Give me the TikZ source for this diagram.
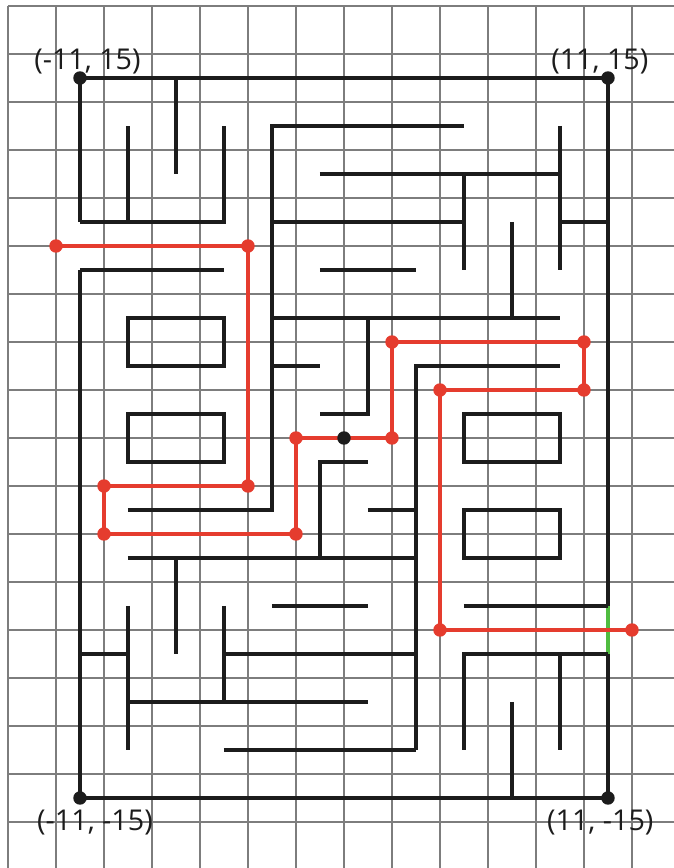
\documentclass[tikz,border=0pt]{standalone}
\usepackage{fontspec}
\setmainfont{Open Sans}
\usetikzlibrary{positioning}

\definecolor{routered}{RGB}{229,60,46}
\definecolor{exitgreen}{RGB}{80,188,64}
\definecolor{gridgray}{RGB}{125,125,125}
\definecolor{wallblack}{RGB}{28,28,28}

\tikzset{
  wall/.style={line width=4.5pt, wallblack},
  route/.style={line width=3.6pt, routered},
  cornerlabel/.style={font=\fontsize{34}{40}\selectfont, text=wallblack, inner sep=0pt, anchor=base},
}

\begin{document}
\begin{tikzpicture}
    \useasboundingbox (-14.333,-17.917) rectangle (13.75,18.25);
    \clip (-14.333,-17.917) rectangle (13.75,18.25);

    % --- Background grid ---
    \draw[gridgray, line width=1.6pt] (-14,-18) grid[step=2] (14,18);

    % --- Outer walls (gap on the left at y=8, exit on the right) ---
    \draw[wall] (-11,9) -- (-11,15) -- (11,15) -- (11,-7);
    \draw[wall] (11,-9) -- (11,-15) -- (-11,-15) -- (-11,7);
    \draw[exitgreen, line width=4pt] (11,-7) -- (11,-9);

    % --- Top left block ---
    \draw[wall] (-11,9) -- (-5,9) -- (-5,13);
    \draw[wall] (-9,9) -- (-9,13);
    \draw[wall] (-7,15) -- (-7,11);
    \draw[wall] (-11,7) -- (-5,7);

    % --- Central spine and top right ---
    \draw[wall] (-9,-3) -- (-3,-3) -- (-3,13) -- (5,13);
    \draw[wall] (-1,11) -- (9,11);
    \draw[wall] (-3,9) -- (5,9);
    \draw[wall] (5,11) -- (5,7);
    \draw[wall] (-1,7) -- (3,7);
    \draw[wall] (9,13) -- (9,7);
    \draw[wall] (9,9) -- (11,9);
    \draw[wall] (7,9) -- (7,5);
    \draw[wall] (-3,5) -- (9,5);
    \draw[wall] (-3,3) -- (-1,3);
    \draw[wall] (1,5) -- (1,1) -- (-1,1);
    \draw[wall] (3,-13) -- (3,3) -- (9,3);

    % --- Boxes ---
    \draw[wall] (-9,3) rectangle (-5,5);
    \draw[wall] (-9,-1) rectangle (-5,1);
    \draw[wall] (5,-1) rectangle (9,1);
    \draw[wall] (5,-5) rectangle (9,-3);

    % --- Middle ---
    \draw[wall] (1,-1) -- (-1,-1) -- (-1,-5);
    \draw[wall] (-9,-5) -- (3,-5);
    \draw[wall] (1,-3) -- (3,-3);
    \draw[wall] (-7,-5) -- (-7,-9);

    % --- Bottom left ---
    \draw[wall] (-3,-7) -- (1,-7);
    \draw[wall] (-9,-7) -- (-9,-13);
    \draw[wall] (-11,-9) -- (-9,-9);
    \draw[wall] (-5,-7) -- (-5,-11);
    \draw[wall] (-5,-9) -- (3,-9);
    \draw[wall] (-9,-11) -- (1,-11);
    \draw[wall] (-5,-13) -- (3,-13);

    % --- Bottom right ---
    \draw[wall] (5,-7) -- (11,-7);
    \draw[wall] (5,-13) -- (5,-9) -- (11,-9);
    \draw[wall] (9,-9) -- (9,-13);
    \draw[wall] (7,-11) -- (7,-15);

    % --- Solution route ---
    \coordinate (r1) at (-12,8);
    \coordinate (r2) at (-4,8);
    \coordinate (r3) at (-4,-2);
    \coordinate (r4) at (-10,-2);
    \coordinate (r5) at (-10,-4);
    \coordinate (r6) at (-2,-4);
    \coordinate (r7) at (-2,0);
    \coordinate (r8) at (2,0);
    \coordinate (r9) at (2,4);
    \coordinate (r10) at (10,4);
    \coordinate (r11) at (10,2);
    \coordinate (r12) at (4,2);
    \coordinate (r13) at (4,-8);
    \coordinate (r14) at (12,-8);
    \coordinate (origin) at (0,0);

    \draw[route] (r1) -- (r2) -- (r3) -- (r4) -- (r5) -- (r6) -- (r7) -- (r8)
                 -- (r9) -- (r10) -- (r11) -- (r12) -- (r13) -- (r14);
    \foreach \p in {r1,r2,r3,r4,r5,r6,r7,r8,r9,r10,r11,r12,r13,r14}
        \fill[routered] (\p) circle (0.28);
    \fill[wallblack] (origin) circle (0.28);

    % --- Corners ---
    \coordinate (ctl) at (-11,15);
    \coordinate (ctr) at (11,15);
    \coordinate (cbl) at (-11,-15);
    \coordinate (cbr) at (11,-15);
    \foreach \c in {ctl,ctr,cbl,cbr}
        \fill[wallblack] (\c) circle (0.28);

    \node[cornerlabel] (ltl) at (-10.69,15.35) {(-11, 15)};
    \node[cornerlabel] (ltr) at (10.66,15.35) {(11, 15)};
    \node[cornerlabel] (lbl) at (-10.375,-16.36) {(-11, -15)};
    \node[cornerlabel] (lbr) at (10.68,-16.36) {(11, -15)};

\end{tikzpicture}
\end{document}
